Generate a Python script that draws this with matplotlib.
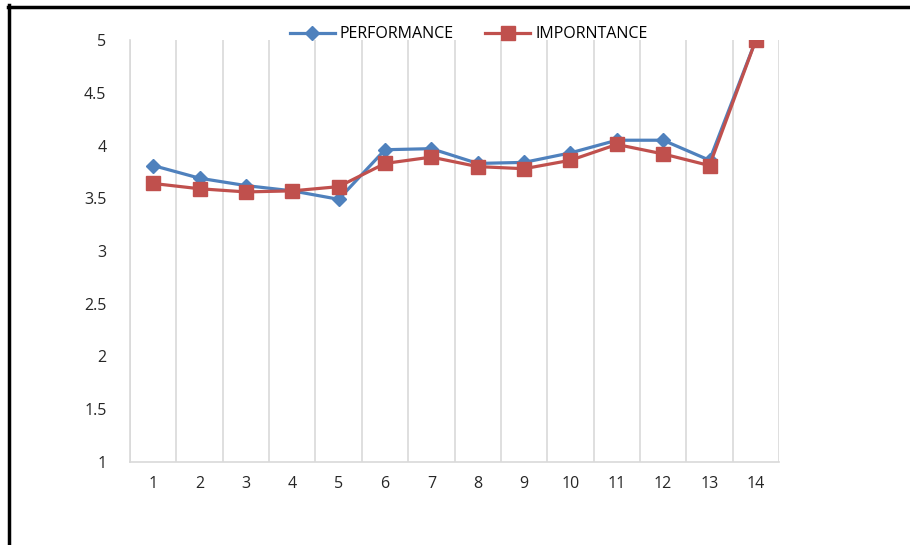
import matplotlib
matplotlib.use('Agg')
import matplotlib.pyplot as plt
from matplotlib.lines import Line2D

# scores per item (1-14)
items = list(range(1, 15))
performance = [3.81, 3.69, 3.62, 3.57, 3.49, 3.96, 3.97, 3.83, 3.84, 3.93, 4.05, 4.05, 3.86, 5.0]
importance = [3.64, 3.59, 3.56, 3.57, 3.61, 3.83, 3.89, 3.80, 3.78, 3.86, 4.01, 3.92, 3.81, 5.0]
y_ticks = [1, 1.5, 2, 2.5, 3, 3.5, 4, 4.5, 5]

plt.rcParams['font.family'] = ['Open Sans', 'DejaVu Sans']

fig = plt.figure(figsize=(9.1, 5.45), dpi=100)
ax = fig.add_axes([0.1429, 0.1523, 0.7132, 0.7743])

blue = '#4F81BD'
red = '#C0504D'
grid = '#D9D9D9'

ax.plot(items, performance, color=blue, linewidth=2.3, marker='D', markersize=7,
        label='PERFORMANCE', zorder=3)
ax.plot(items, importance, color=red, linewidth=2.3, marker='s', markersize=10,
        label='IMPORNTANCE', zorder=4)

ax.set_xlim(0.5, 14.5)
ax.set_ylim(1, 5)
ax.set_xticks(items)
ax.set_xticklabels([str(i) for i in items])
ax.set_yticks(y_ticks)
ax.set_yticklabels(['%g' % t for t in y_ticks])

# vertical separators between categories
for b in [i + 0.5 for i in range(0, 15)]:
    ax.axvline(b, color=grid, linewidth=1.2, zorder=1)

for side in ['top', 'right']:
    ax.spines[side].set_visible(False)
for side in ['left', 'bottom']:
    ax.spines[side].set_color(grid)
    ax.spines[side].set_linewidth(1.2)

ax.tick_params(axis='both', length=0, labelsize=11.5, colors='#262626')
ax.tick_params(axis='x', pad=10)
ax.tick_params(axis='y', pad=17)

fig.legend(loc='center', bbox_to_anchor=(0.515, 0.937), ncol=2, frameon=False,
           fontsize=11.5, handlelength=2.8, columnspacing=2.0, handletextpad=0.3)

# outer black frame
fig.add_artist(Line2D([0.009, 1.0], [0.988, 0.988], color='black', linewidth=2.5,
                      transform=fig.transFigure))
fig.add_artist(Line2D([0.0095, 0.0095], [0.0, 0.99], color='black', linewidth=2.5,
                      transform=fig.transFigure))

fig.savefig('out.png', dpi=100)
